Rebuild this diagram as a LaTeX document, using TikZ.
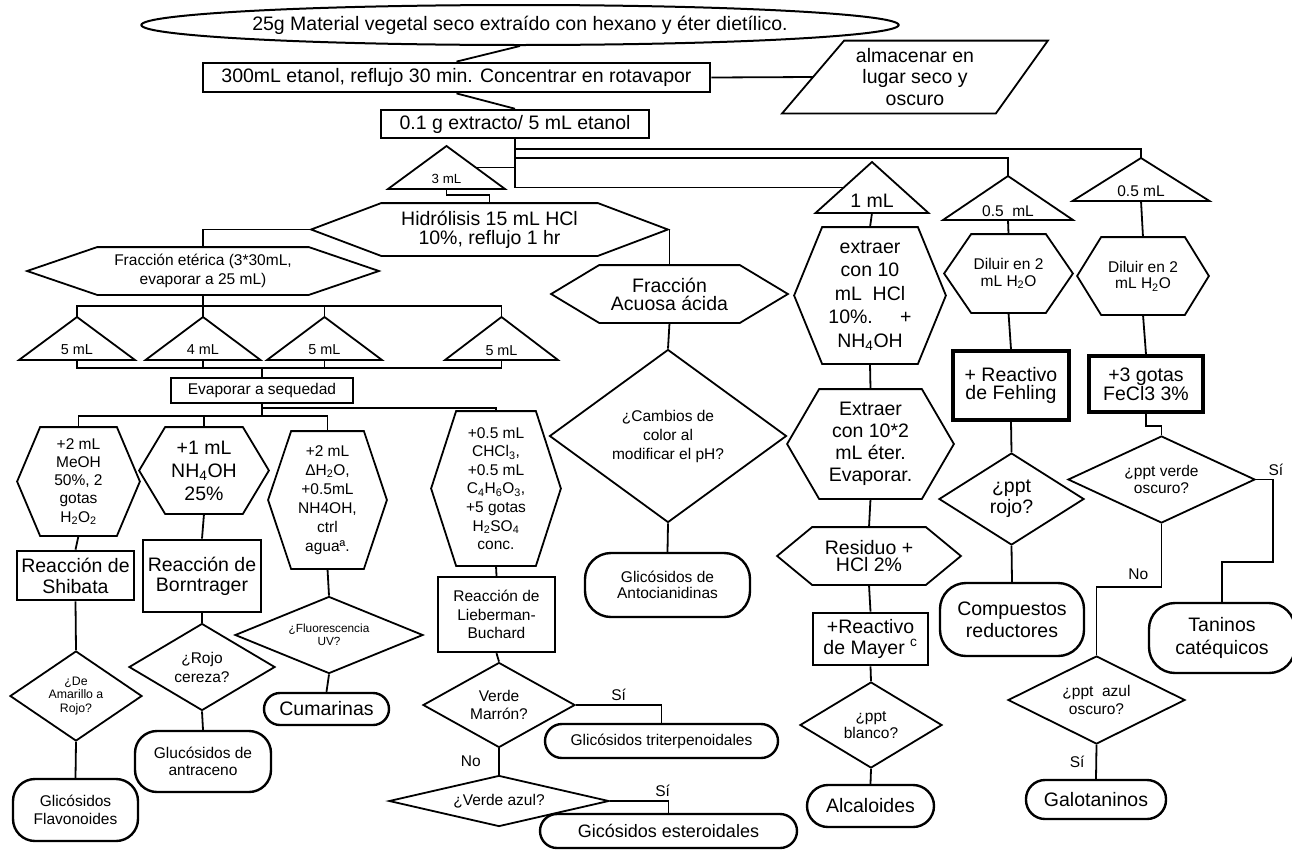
\documentclass[tikz,border=0pt]{standalone}
\usepackage{fontspec}
\setmainfont{Liberation Sans}
\usetikzlibrary{shapes.geometric}
\tikzset{
	bare/.style      = {rectangle, align=center, inner sep=0pt},
	box/.style       = {draw, rectangle, line width=2.8pt, align=center, inner sep=0pt},
	startnode/.style = {draw, ellipse, line width=2pt, inner sep=0pt},
	term/.style      = {draw, rectangle, line width=2.4pt, align=center, inner sep=0pt, rounded corners=#1},
	term/.default    = 17pt,
	decision/.style  = {draw, diamond, line width=1.8pt, align=center, inner sep=0pt},
	txtL/.style      = {font=\fontsize{19.5}{21}\selectfont},
	txtM/.style      = {font=\fontsize{15.5}{18}\selectfont},
	txtT/.style      = {font=\fontsize{14.4}{16}\selectfont}
}
% hexagon round a bare node: name, tip
\newcommand{\hexbox}[2]{%
	\draw ([xshift=#2]#1.north west) -- ([xshift=-#2]#1.north east) -- (#1.east)
		-- ([xshift=-#2]#1.south east) -- ([xshift=#2]#1.south west) -- (#1.west) -- cycle;}
% triangle round a bare node: name, half base, up, down
\newcommand{\portion}[4]{%
	\draw ([xshift=-#2,yshift=-#4]#1.center) -- ([yshift=#3]#1.center) coordinate (#1-top)
		-- ([xshift=#2,yshift=-#4]#1.center) -- cycle;
	\coordinate (#1-bot) at ([yshift=-#4]#1.center);
	\coordinate (#1-l) at ([xshift=-#2/2,yshift=#3/2-#4/2]#1.center);
	\coordinate (#1-r) at ([xshift=#2/2,yshift=#3/2-#4/2]#1.center);}

\begin{document}
\begin{tikzpicture}[x=1pt, y=-1pt, line width=1.8pt]
	\useasboundingbox (0,0) rectangle (1292,849);

	\draw
	% Drawing the head of the chart
	node at (520,25) [startnode, minimum width=690, minimum height=40, txtL] (mat) {25g Material vegetal seco extraído con hexano y éter dietílico.}
	node at (456.5,77.5) [box, minimum width=507, minimum height=29, txtL] (eta) {300mL etanol, reflujo 30 min. Concentrar en rotavapor}
	node at (915,77) [bare, minimum width=264, minimum height=71, font=\fontsize{19.5}{21.5}\selectfont] (alm) {almacenar en\\lugar seco y\\oscuro}
	node at (515,124) [box, line width=2.5pt, minimum width=268, minimum height=28, txtL] (ext) {0.1 g extracto/ 5 mL etanol};
	\draw (alm.south west) -- ([xshift=62]alm.north west) -- (alm.north east) -- ([xshift=-52]alm.south east) -- cycle;

	\draw
	% Drawing the portions
	node at (446.5,179) [bare, font=\fontsize{13.3}{15}\selectfont] (t3) {3 mL}
	node at (872,201) [bare, txtL] (t1) {1 mL}
	node at (1008,211) [bare, txtM] (t05a) {0.5\ \ mL}
	node at (1141,191) [bare, txtM] (t05b) {0.5 mL}
	node at (77,350) [bare, txtT] (ta) {5 mL}
	node at (203,350) [bare, txtT] (tb) {4 mL}
	node at (324.5,350) [bare, txtT] (tc) {5 mL}
	node at (501.5,351) [bare, txtT] (td) {5 mL};
	\portion{t3}{58.5}{33}{10}
	\portion{t1}{56.5}{39}{12}
	\portion{t05a}{65}{35}{9}
	\portion{t05b}{68.5}{33}{10}
	\portion{ta}{58}{33}{10}
	\portion{tb}{57.5}{33}{10}
	\portion{tc}{57.5}{33}{10}
	\portion{td}{56.5}{34}{9}

	\draw
	% Drawing the hexagons
	node at (489.5,229.5) [bare, minimum width=355, minimum height=51, font=\fontsize{19.5}{19}\selectfont] (hyd) {Hidrólisis 15 mL HCl\\10\%, reflujo 1 hr}
	node at (203,271) [bare, minimum width=350, minimum height=46, font=\fontsize{15.5}{19}\selectfont] (fet) {Fracción etérica (3*30mL,\\evaporar a 25 mL)}
	node at (669.5,294) [bare, minimum width=235, minimum height=56, font=\fontsize{19.5}{18}\selectfont] (fac) {Fracción\\Acuosa ácida}
	node at (870,295.5) [bare, minimum width=150, minimum height=135, font=\fontsize{19.5}{23.5}\selectfont] (hcl) {extraer\\con 10\\mL\ \ HCl\\10\%.\hspace{1.4em}+\\NH\textsubscript{4}OH}
	node at (870.5,444) [bare, minimum width=165, minimum height=108, font=\fontsize{19.5}{22}\selectfont] (eter) {Extraer\\con 10*2\\mL éter.\\Evaporar.}
	node at (869,556) [bare, minimum width=182, minimum height=56, font=\fontsize{19.5}{17}\selectfont] (res) {Residuo +\\HCl 2\%}
	node at (1008.5,273.5) [bare, minimum width=127, minimum height=77, font=\fontsize{15.5}{16.5}\selectfont] (dila) {Diluir en 2\\mL H\textsubscript{2}O}
	node at (1143,276) [bare, minimum width=130, minimum height=76, font=\fontsize{15.5}{16.5}\selectfont] (dilb) {Diluir en 2\\mL H\textsubscript{2}O}
	node at (78.5,481.5) [bare, minimum width=121, minimum height=107, font=\fontsize{15.5}{18.3}\selectfont] (meoh) {+2 mL\\MeOH\\50\%, 2\\gotas\\H\textsubscript{2}O\textsubscript{2}}
	node at (204,470.5) [bare, minimum width=128, minimum height=85, font=\fontsize{19.5}{23}\selectfont] (nh) {+1 mL\\NH\textsubscript{4}OH\\25\%}
	node at (327.5,500) [bare, minimum width=117, minimum height=136, font=\fontsize{15.5}{19}\selectfont] (agua) {+2 mL\\ΔH\textsubscript{2}O,\\+0.5mL\\NH4OH,\\ctrl\\aguaª.}
	node at (496,488.5) [bare, minimum width=128, minimum height=153, font=\fontsize{15.5}{18.6}\selectfont] (chcl) {+0.5 mL\\CHCl\textsubscript{3},\\+0.5 mL\\C\textsubscript{4}H\textsubscript{6}O\textsubscript{3},\\+5 gotas\\H\textsubscript{2}SO\textsubscript{4}\\conc.};
	\hexbox{hyd}{70}
	\hexbox{fet}{70}
	\hexbox{fac}{48}
	\hexbox{hcl}{28}
	\hexbox{eter}{32}
	\hexbox{res}{35}
	\hexbox{dila}{27}
	\hexbox{dilb}{24}
	\hexbox{meoh}{23}
	\hexbox{nh}{26}
	\hexbox{agua}{23}
	\hexbox{chcl}{25}

	\draw
	% Drawing the reaction boxes
	node at (262,390.5) [box, line width=2.2pt, minimum width=182, minimum height=25, txtM] (evap) {Evaporar a sequedad}
	node at (75.5,575.5) [box, minimum width=117, minimum height=49, txtL] (shi) {Reacción de\\Shibata}
	node at (202,576) [box, minimum width=118, minimum height=72, font=\fontsize{19.5}{20}\selectfont] (bor) {Reacción de\\Borntrager}
	node at (496.5,614.5) [box, line width=2.4pt, minimum width=117, minimum height=75, font=\fontsize{15.5}{18.3}\selectfont] (lieb) {Reacción de\\Lieberman-\\Buchard}
	node at (870.5,639) [box, minimum width=115, minimum height=52, font=\fontsize{19.5}{20.5}\selectfont] (may) {+Reactivo\\de Mayer \textsuperscript{c}}
	node at (1011,385.5) [box, line width=3.4pt, minimum width=116, minimum height=69, font=\fontsize{19.5}{18.5}\selectfont] (feh) {+ Reactivo\\de Fehling}
	node at (1146,384) [box, line width=3.4pt, minimum width=114, minimum height=56, font=\fontsize{19.5}{17.5}\selectfont] (fec) {+3 gotas\\FeCl3 3\%};

	\draw
	% Drawing the questions
	node at (668,436) [decision, minimum width=237, minimum height=173, aspect=1.37, font=\fontsize{15.5}{19}\selectfont] (cam) {¿Cambios de\\color al\\modificar el pH?}
	node at (76,696) [decision, minimum width=132, minimum height=90, aspect=1.47, font=\fontsize{12.3}{13.3}\selectfont] (dam) {¿De\\Amarillo a\\Rojo?}
	node at (202,667) [decision, minimum width=146, minimum height=87, aspect=1.68, font=\fontsize{15.5}{19}\selectfont] (roj) {¿Rojo\\cereza?}
	node at (329,635) [decision, minimum width=188, minimum height=77, aspect=2.44, font=\fontsize{11.8}{12.7}\selectfont] (flu) {¿Fluorescencia\\UV?}
	node at (499,705) [decision, minimum width=152, minimum height=85, aspect=1.79, font=\fontsize{15.5}{17.7}\selectfont] (vma) {Verde\\Marrón?}
	node at (499,801) [decision, minimum width=220, minimum height=51, aspect=4.31, txtM] (vaz) {¿Verde azul?}
	node at (871,725) [decision, minimum width=142, minimum height=86, aspect=1.65, font=\fontsize{15.5}{16.7}\selectfont] (pbl) {¿ppt\\blanco?}
	node at (1011.5,499) [decision, minimum width=145, minimum height=92, aspect=1.58, font=\fontsize{19.5}{20.7}\selectfont] (pro) {¿ppt\\rojo?}
	node at (1161.5,479.5) [decision, minimum width=187, minimum height=87, aspect=2.15, font=\fontsize{15.5}{17.7}\selectfont] (pve) {¿ppt verde\\oscuro?}
	node at (1096.5,700) [decision, minimum width=177, minimum height=88, aspect=2.01, font=\fontsize{15.5}{17.7}\selectfont] (paz) {¿ppt\ \ azul\\oscuro?};

	\draw
	% Drawing the results
	node at (75.5,810) [term=22pt, minimum width=125, minimum height=62, txtM] (flav) {Glicósidos\\Flavonoides}
	node at (203,761.5) [term=22pt, minimum width=136, minimum height=61, font=\fontsize{15.5}{17.3}\selectfont] (antr) {Glucósidos de\\antraceno}
	node at (326.5,709) [term=16pt, minimum width=125, minimum height=32, txtL] (cum) {Cumarinas}
	node at (667.5,585) [term=26pt, minimum width=165, minimum height=64, font=\fontsize{15.5}{16.7}\selectfont] (anto) {Glicósidos de\\Antocianidinas}
	node at (661.5,741) [term=17pt, minimum width=233, minimum height=34, txtM] (tri) {Glicósidos triterpenoidales}
	node at (668.5,831) [term=17pt, minimum width=257, minimum height=34, font=\fontsize{18}{20}\selectfont] (est) {Gicósidos esteroidales}
	node at (870.5,806) [term=21pt, minimum width=127, minimum height=42, txtL] (alc) {Alcaloides}
	node at (1012,619.5) [term=26pt, minimum width=144, minimum height=73, font=\fontsize{19.5}{22.3}\selectfont] (com) {Compuestos\\reductores}
	node at (1222,638) [term=26pt, minimum width=146, minimum height=70, font=\fontsize{19.5}{22.3}\selectfont] (tan) {Taninos\\catéquicos}
	node at (1096,799.5) [term=19pt, minimum width=140, minimum height=39, txtL] (gal) {Galotaninos};

	% head connections
	\draw (mat.south) -- (eta.north);
	\draw (eta.south) -- (ext.north);
	\draw (eta.east) -- ([xshift=31]alm.west);
	\draw (ext.south) -- ++(0,10) -| (t05b-top);
	\draw (ext.south) -- ++(0,19) -| (t05a-top);
	\draw (ext.south) |- (t1-l);
	\draw (ext.south) |- (t3-r);
	\draw (t3-bot) -- ++(0,6) -| (hyd.north);
	\draw (hyd.west) -| (fet.north);
	\draw (hyd.east) -| (fac.north);

	% etheric fraction
	\draw (fet.south) -- ++(0,11) -| (ta-top);
	\draw (fet.south) -- ++(0,11) -| (tb-top);
	\draw (fet.south) -- ++(0,11) -| (tc-top);
	\draw (fet.south) -- ++(0,11) -| (td-top);
	\draw (ta-bot) -- ++(0,8) -| (evap.north);
	\draw (tb-bot) -- ++(0,8) -| (evap.north);
	\draw (tc-bot) -- ++(0,8) -| (evap.north);
	\draw (td-bot) -- ++(0,8) -| (evap.north);
	\draw (evap.south) -- ++(0,12) -| (meoh.north);
	\draw (evap.south) -- ++(0,12) -| (nh.north);
	\draw (evap.south) -- ++(0,12) -| (agua.north);
	\draw (evap.south) -- ++(0,4) -| (chcl.north);
	\draw (meoh.south) -- (shi.north);
	\draw (shi.south) -- (dam.north);
	\draw (dam.south) -- (flav.north);
	\draw (nh.south) -- (bor.north);
	\draw (bor.south) -- (roj.north);
	\draw (roj.south) -- (antr.north);
	\draw (agua.south) -- (flu.north);
	\draw (flu.south) -- (cum.north);
	\draw (chcl.south) -- (lieb.north);
	\draw (lieb.south) -- (vma.north);
	\draw (vma.east) -| (tri.north) node[pos=0.25, above, txtM] {Sí};
	\draw (vma.south) -- (vaz.north) node[midway, left=14pt, txtM] {No};
	\draw (vaz.east) -| (est.north) node[pos=0.45, above, txtM] {Sí};

	% acid fraction
	\draw (fac.south) -- (cam.north);
	\draw (cam.south) -- (anto.north);

	% alkaloids
	\draw (t1-bot) -- (hcl.north);
	\draw (hcl.south) -- (eter.north);
	\draw (eter.south) -- (res.north);
	\draw (res.south) -- (may.north);
	\draw (may.south) -- (pbl.north);
	\draw (pbl.south) -- (alc.north);

	% reducing compounds and tannins
	\draw (t05a-bot) -- (dila.north);
	\draw (dila.south) -- (feh.north);
	\draw (feh.south) -- (pro.north);
	\draw (pro.south) -- (com.north);
	\draw (t05b-bot) -- (dilb.north);
	\draw (dilb.south) -- (fec.north);
	\draw (fec.south) -- ++(0,12) -| (pve.north);
	\draw (pve.east) -- ++(17,0) node[above, xshift=3pt, txtM] {Sí} |- ([yshift=40]tan.north) -- (tan.north);
	\draw (pve.south) |- ([yshift=68]paz.north) node[pos=0.4, left=9pt, txtM] {No} -- (paz.north);
	\draw (paz.south) -- (gal.north) node[midway, left=7.5pt, txtM] {Sí};

\end{tikzpicture}
\end{document}
